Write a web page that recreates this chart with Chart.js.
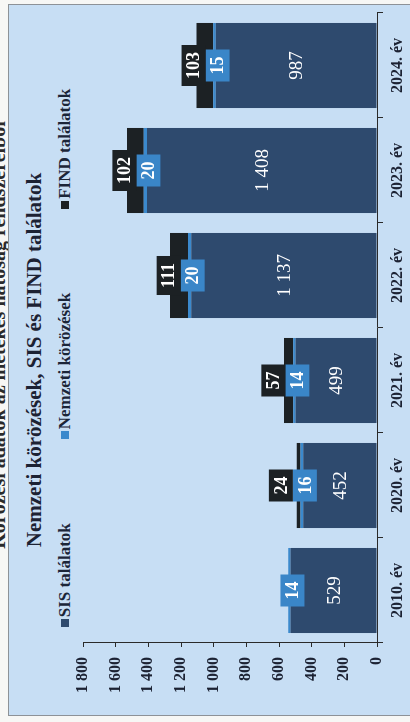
<!DOCTYPE html>
<html><head><meta charset="utf-8">
<script src="https://cdn.jsdelivr.net/npm/chart.js@4.4.1/dist/chart.umd.min.js"></script>
<style>
html,body{margin:0;padding:0;background:#f7f7f5;width:410px;height:722px;overflow:hidden;}
#rot{position:absolute;left:-156px;top:156px;width:722px;height:410px;transform:rotate(-90deg);transform-origin:50% 50%;}
#hdr{position:absolute;left:0;width:722px;top:-13px;line-height:22px;text-align:center;font:bold 20px "Liberation Serif",serif;color:#2a2a2a;padding-left:52px;box-sizing:border-box;white-space:nowrap;}
#panel{position:absolute;left:6px;top:8px;width:712px;height:420px;background:#c7def4;border:1px solid #8d9297;box-sizing:border-box;}
#title{position:absolute;left:0;width:722px;top:22px;line-height:25px;text-align:center;font:bold 21px "Liberation Serif",serif;color:#1c2233;padding-left:2px;box-sizing:border-box;}
#legend{position:absolute;left:6px;right:0;top:55px;line-height:20px;display:flex;justify-content:center;gap:84px;font:bold 17px "Liberation Serif",serif;color:#1b2538;}
#legend .sw{display:inline-block;width:8px;height:8px;margin-right:2px;vertical-align:1px;}
canvas{position:absolute;left:0;top:0;}
</style></head>
<body>
<div id="rot">
  <div id="hdr">Körözési adatok az illetékes hatóság rendszereiből</div>
  <div id="panel"></div>
  <div id="title"></div>
  <div id="legend"></div>
  <canvas id="c" width="722" height="410"></canvas>
</div>
<script>
const categories = ['2010. év','2020. év','2021. év','2022. év','2023. év','2024. év'];
const sisValues = [529, 452, 499, 1137, 1408, 987];
const nemzetiValues = [14, 16, 14, 20, 20, 15];
const findValues = [0, 24, 57, 111, 102, 103];
const seriesNames = ['SIS találatok', 'Nemzeti körözések', 'FIND találatok'];
const valueTicks = [0, 200, 400, 600, 800, 1000, 1200, 1400, 1600, 1800];
const titleText = 'Nemzeti körözések, SIS és FIND találatok';

const SERIF = '"Liberation Serif", "Times New Roman", serif';
const colors = ['#2e4a6e', '#3b89cc', '#1c2124'];
const boxColors = ['#2e4a6e', '#3a86c8', '#1c2124'];
const inkColor = '#1c2233';
const axisColor = '#2a2a2a';

const fmt = v => String(v).replace(/\B(?=(\d{3})+(?!\d))/g, ' ');

document.getElementById('title').textContent = titleText;
const lg = document.getElementById('legend');
seriesNames.forEach((n, i) => {
  const item = document.createElement('span');
  const sw = document.createElement('span');
  sw.className = 'sw'; sw.style.background = colors[i];
  item.appendChild(sw);
  item.appendChild(document.createTextNode(n));
  lg.appendChild(item);
});

const labelPlugin = {
  id: 'segLabels',
  afterDatasetsDraw(chart) {
    const ctx = chart.ctx;
    const m0 = chart.getDatasetMeta(0), m1 = chart.getDatasetMeta(1), m2 = chart.getDatasetMeta(2);
    ctx.save();
    ctx.textAlign = 'center';
    ctx.textBaseline = 'middle';
    const h = 24;
    categories.forEach((c, i) => {
      const b0 = m0.data[i], b1 = m1.data[i], b2 = m2.data[i];
      ctx.font = '19px ' + SERIF;
      ctx.fillStyle = '#ffffff';
      ctx.fillText(fmt(sisValues[i]), b0.x, (b0.y + b0.base) / 2 + 1);

      ctx.font = 'bold 18px ' + SERIF;
      const cy1 = (b1.y + b1.base) / 2 + 3;
      const t1 = fmt(nemzetiValues[i]);
      const w1 = ctx.measureText(t1).width + 14;
      ctx.fillStyle = boxColors[1];
      ctx.fillRect(b1.x - w1 / 2, cy1 - h / 2, w1, h);
      ctx.fillStyle = '#ffffff';
      ctx.fillText(t1, b1.x, cy1 + 1);

      if (findValues[i] > 0) {
        const cy2 = cy1 - h;
        const t2 = fmt(findValues[i]);
        const w2 = ctx.measureText(t2).width + 14;
        ctx.fillStyle = boxColors[2];
        ctx.fillRect(b2.x - w2 / 2, cy2 - h / 2, w2, h);
        ctx.fillStyle = '#ffffff';
        ctx.fillText(t2, b2.x, cy2 + 1);
      }
    });
    ctx.restore();
  }
};

new Chart(document.getElementById('c'), {
  type: 'bar',
  data: {
    labels: categories,
    datasets: [
      { label: seriesNames[0], data: sisValues, backgroundColor: colors[0] },
      { label: seriesNames[1], data: nemzetiValues, backgroundColor: colors[1] },
      { label: seriesNames[2], data: findValues, backgroundColor: colors[2] }
    ]
  },
  options: {
    responsive: false,
    animation: false,
    devicePixelRatio: 1,
    datasets: { bar: { categoryPercentage: 0.81, barPercentage: 1, borderWidth: 0 } },
    layout: { padding: { left: 0, right: 13, top: 83, bottom: 0 } },
    plugins: { legend: { display: false }, tooltip: { enabled: false }, title: { display: false } },
    scales: {
      x: {
        stacked: true,
        afterFit: s => { s.height = 33; },
        grid: { display: true, drawOnChartArea: false, drawTicks: true, tickLength: 6, color: axisColor, offset: true },
        border: { display: true, color: axisColor, width: 1 },
        ticks: { color: inkColor, font: { family: SERIF, size: 16, weight: 'bold' }, padding: 5, maxRotation: 0, autoSkip: false }
      },
      y: {
        stacked: true,
        min: valueTicks[0],
        max: valueTicks[valueTicks.length - 1],
        afterFit: s => { s.width = 79; },
        afterBuildTicks: s => { s.ticks = valueTicks.map(v => ({ value: v })); },
        grid: { display: true, drawOnChartArea: false, drawTicks: true, tickLength: 4, color: axisColor },
        border: { display: true, color: axisColor, width: 1 },
        ticks: { color: inkColor, font: { family: SERIF, size: 16, weight: 'bold' }, padding: 10, callback: v => fmt(v) }
      }
    }
  },
  plugins: [labelPlugin]
});
</script>
</body></html>
